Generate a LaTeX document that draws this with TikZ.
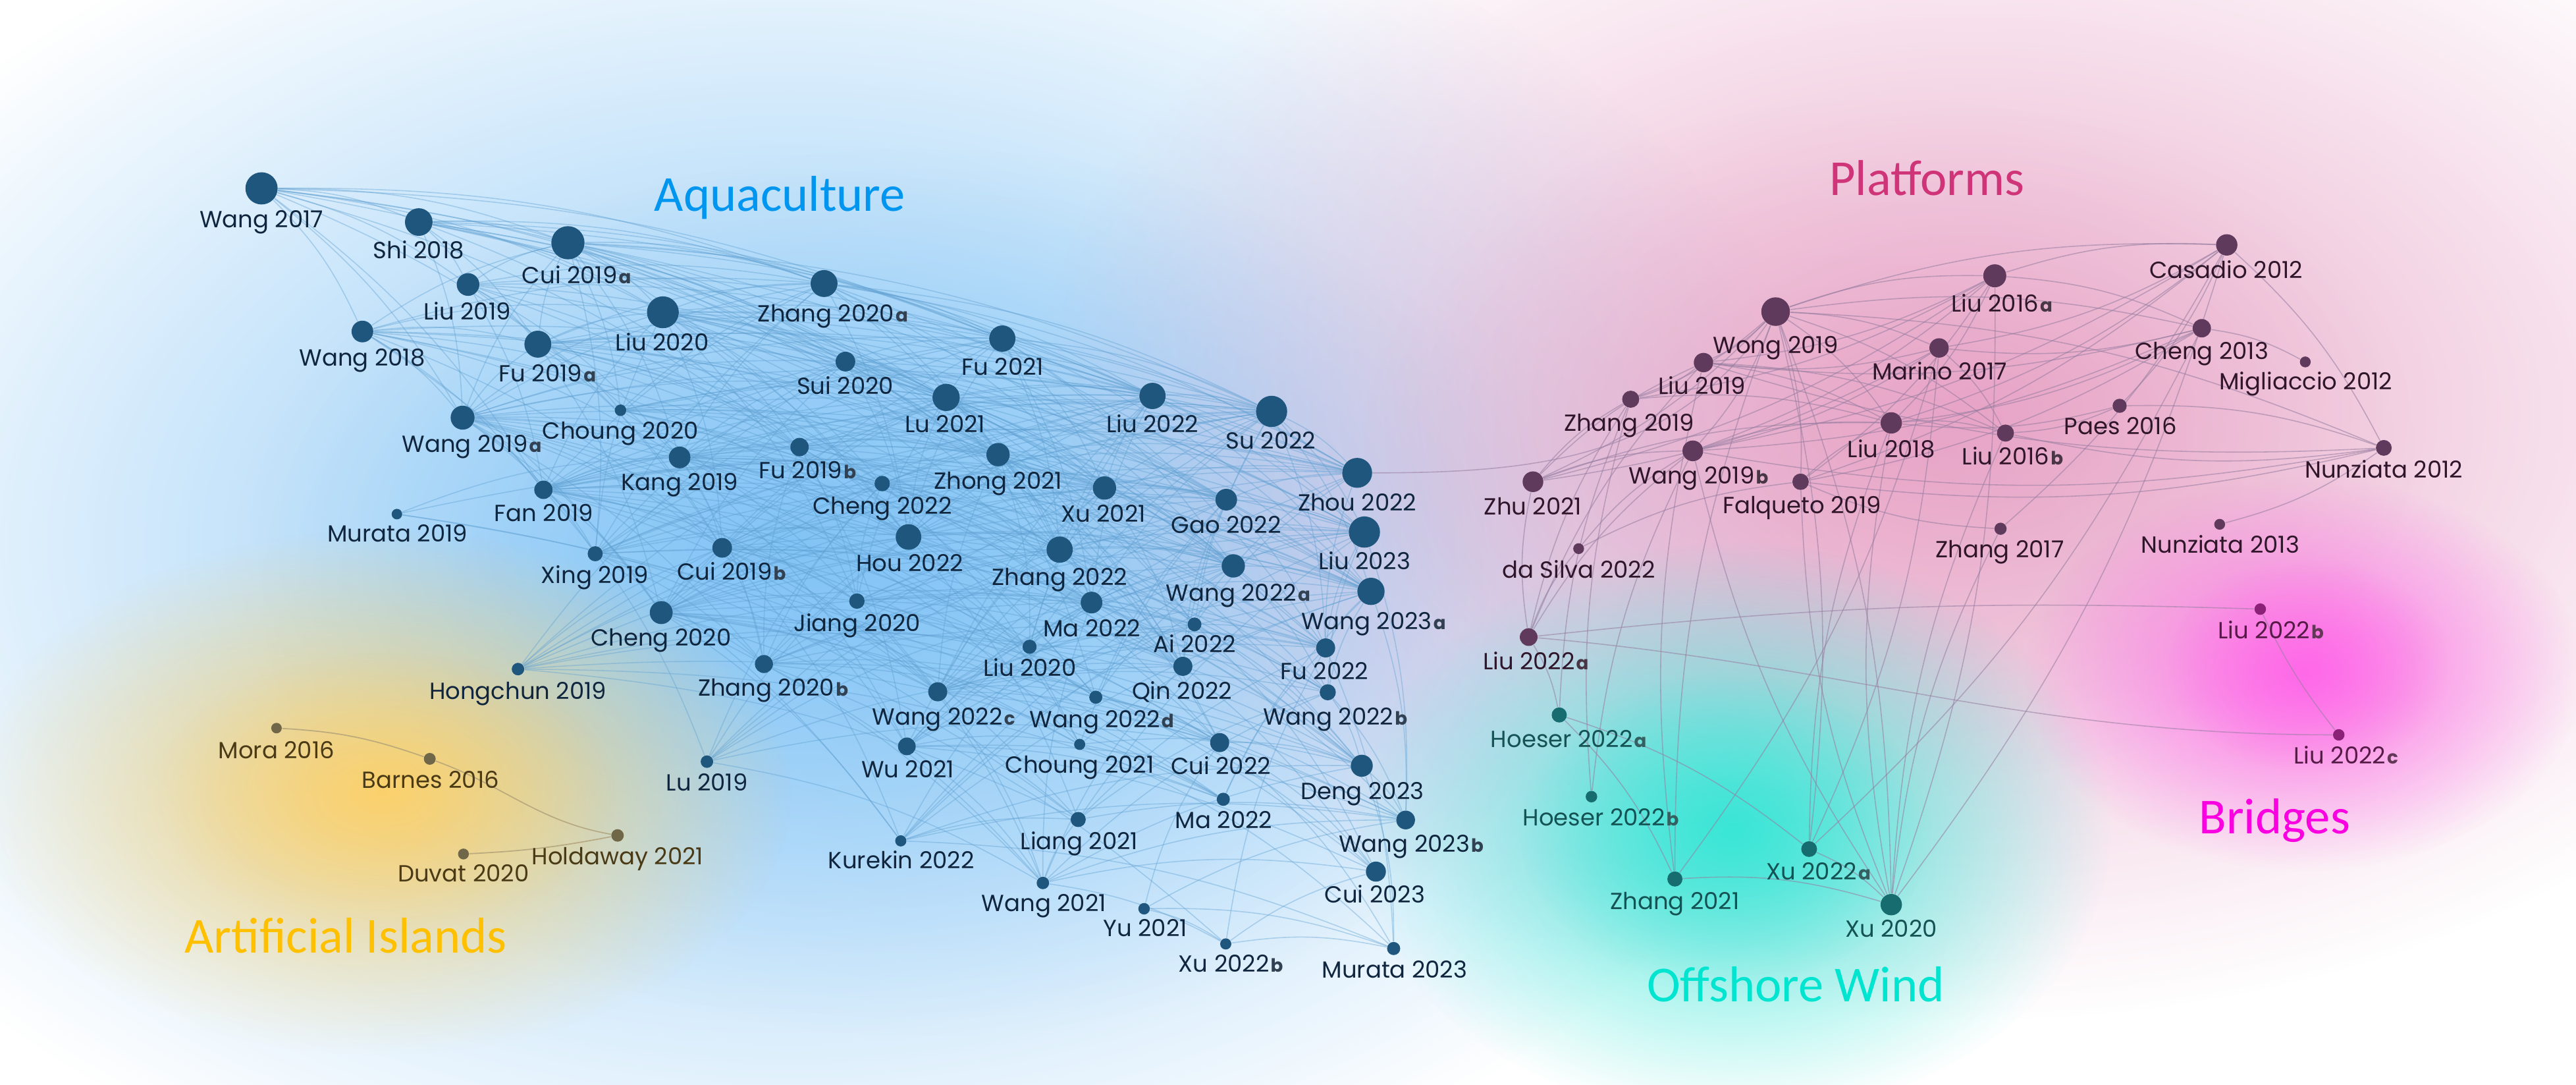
\documentclass[tikz,border=0pt]{standalone}
\usepackage{fontspec}
\setmainfont{Poppins}
\newfontfamily\titlefont{Carlito}
\usetikzlibrary{fadings}
\tikzfading[name=blobfade, inner color=transparent!0, outer color=transparent!100]
\pgfdeclarelayer{blobs}
\pgfdeclarelayer{edges}
\pgfsetlayers{blobs,edges,main}
\definecolor{aqDot}{RGB}{31,86,126}
\definecolor{aqText}{RGB}{16,38,62}
\definecolor{aqEdge}{RGB}{95,160,210}
\definecolor{plDot}{RGB}{96,58,92}
\definecolor{plText}{RGB}{48,22,42}
\definecolor{plEdge}{RGB}{150,125,160}
\definecolor{owDot}{RGB}{22,108,110}
\definecolor{owText}{RGB}{20,82,84}
\definecolor{brDot}{RGB}{140,34,120}
\definecolor{brText}{RGB}{86,26,70}
\definecolor{aiDot}{RGB}{112,102,72}
\definecolor{aiText}{RGB}{74,58,22}
\definecolor{aiEdge}{RGB}{175,160,120}
\definecolor{tAqua}{RGB}{0,150,240}
\definecolor{tPlat}{RGB}{208,52,120}
\definecolor{tIsl}{RGB}{255,192,0}
\definecolor{tWind}{RGB}{0,228,208}
\definecolor{tBridge}{RGB}{250,0,225}
\definecolor{bBlue}{RGB}{118,190,245}
\definecolor{bYel}{RGB}{255,208,100}
\definecolor{bPink}{RGB}{228,150,190}
\definecolor{bMag}{RGB}{255,100,232}
\definecolor{bCyan}{RGB}{50,230,214}
\newcommand\suf[1]{\hspace{0.06em}{\fontsize{7.9}{8}\selectfont\bfseries\color{.!70!gray}#1}}
\def\aqlist{w17/159.2/114.6/9.8, s18/254.9/135.1/8.4, c19a/345.7/147.7/10.1,
 l19/284.9/173.1/6.9, w18/220.6/201.7/6.6, l20/403.5/190.0/9.7, f19a/327.4/209.4/8.2,
 z20a/501.6/172.5/8.2, su20/514.6/220.0/6.0, f21/610.1/206.0/8.0, lu21/575.9/241.8/8.3,
 l22/701.5/240.9/8.0, su22/774.0/250.3/9.5, w19a/281.6/254.1/7.3, ch20/377.7/249.6/3.5,
 k19/413.7/278.3/6.6, f19b/486.7/272.0/5.6, zh21/607.5/276.6/7.1, c22/537.0/294.2/4.7,
 x21/672.3/296.9/7.1, g22/746.4/304.0/6.6, zo22/826.1/287.7/9.1, fa19/330.8/298.0/5.6,
 m19/241.6/312.8/3.2, x19/362.3/336.9/4.6, c19b/439.6/333.3/6.0, h22/553.0/326.7/7.8,
 z22/645.0/334.4/8.0, l23/830.5/323.7/9.5, w22a/750.7/344.3/7.1, w23a/834.5/359.8/8.3,
 cg20/402.5/372.7/7.0, j20/521.6/365.7/4.7, ma22/664.4/366.6/6.6, ai22/727.1/379.9/4.2,
 l20b/626.7/393.5/4.3, f22/806.9/394.2/5.8, hc19/315.3/407.1/3.8, z20b/465.0/404.0/5.5,
 q22/720.0/405.4/5.8, w22b/808.2/421.2/4.9, w22c/570.8/420.9/5.8, w22d/667.0/424.2/4.0,
 wu21/552.0/454.1/5.4, cu21/657.2/452.9/3.4, cu22/742.4/451.8/5.8, de23/828.9/465.9/6.7,
 ma22b/744.6/486.3/4.0, w23b/855.6/498.9/5.7, li21/656.3/498.6/4.6, ku22/548.3/511.6/3.4,
 w21/634.8/537.2/3.8, yu21/696.4/552.9/3.5, x22b/746.1/574.3/3.4, cu23/837.5/530.3/6.1,
 mu23/848.3/577.1/4.0, lu19/430.3/463.4/3.8}
\def\pllist{cas/1355.4/149.0/6.5, l16a/1214.2/167.8/7.0, wo19/1080.8/189.6/8.7,
 ch13/1340.2/199.7/5.6, ma17/1180.3/211.7/5.9, mi12/1403.2/220.2/3.3, l19p/1036.9/220.6/5.9,
 z19/992.6/242.9/5.2, pa16/1290.2/246.9/4.3, l18/1151.2/257.3/6.5, l16b/1220.7/263.5/5.2,
 w19b/1030.4/274.3/6.3, n12/1451.0/272.5/4.8, zhu21/933.1/293.1/6.3, fq19/1096.0/293.1/5.0,
 z17/1217.7/321.7/3.7, n13/1351.1/319.0/3.3, ds22/960.9/333.8/3.3, l22a/930.5/387.6/5.4}
\def\brlist{l22b/1375.8/370.6/3.5, l22c/1423.6/447.1/3.5}
\def\owlist{h22a/949.1/435.0/4.6, h22b/968.7/484.7/3.5, x22a/1101.2/516.6/4.8,
 z21/1019.5/534.8/4.6, x20/1151.2/550.4/6.5}
\def\ailist{mo16/168.3/443.0/3.2, ba16/261.6/461.7/3.6, ho21/375.9/508.3/3.8, du20/282.1/519.6/3.3}
\begin{document}
\begin{tikzpicture}[x=0.025cm,y=-0.025cm,
  dot/.style={circle,inner sep=0pt,draw=none},
  lab/.style={inner sep=0pt,text height=7.2pt,text depth=0pt,font=\fontsize{10.1}{11}\selectfont},
  ttl/.style={inner sep=0pt,text height=14pt,text depth=0pt,font=\titlefont\fontsize{21.8}{22}\selectfont},
  aqedge/.style={draw=aqEdge,line width=0.45pt,opacity=0.4},
  pledge/.style={draw=plEdge,line width=0.45pt,opacity=0.55},
  aiedge/.style={draw=aiEdge,line width=0.5pt,opacity=0.8},
  blob/.style={path fading=blobfade, fit fading=true}]
\useasboundingbox (0,0) rectangle (1568,660);
\begin{pgfonlayer}{blobs}
\fill[white] (0,0) rectangle (1568,660);
\fill[bBlue, opacity=0.85, blob] (480,330) ellipse (650 and 430);
\fill[bBlue, opacity=0.5, blob] (560,360) ellipse (400 and 270);
\fill[bPink, opacity=0.8, blob] (1200,250) ellipse (570 and 370);
\fill[bPink, opacity=0.4, blob] (1150,270) ellipse (320 and 210);
\fill[bYel, opacity=0.9, blob] (232,482) ellipse (250 and 160);
\fill[bYel, opacity=0.4, blob] (235,482) ellipse (140 and 85);
\fill[bCyan, opacity=0.9, blob] (1055,505) ellipse (230 and 175);
\fill[bCyan, opacity=0.6, blob] (1050,505) ellipse (125 and 95);
\fill[bMag, opacity=0.9, blob] (1402,410) ellipse (170 and 120);
\fill[bMag, opacity=0.6, blob] (1405,405) ellipse (85 and 65);
\end{pgfonlayer}
% nodes
\foreach \id/\x/\y/\r in \aqlist {\pgfmathsetmacro\d{2*\r*0.025}\node[dot,fill=aqDot,minimum size=\d cm] (\id) at (\x,\y) {};}
\foreach \id/\x/\y/\r in \pllist {\pgfmathsetmacro\d{2*\r*0.025}\node[dot,fill=plDot,minimum size=\d cm] (\id) at (\x,\y) {};}
\foreach \id/\x/\y/\r in \brlist {\pgfmathsetmacro\d{2*\r*0.025}\node[dot,fill=brDot,minimum size=\d cm] (\id) at (\x,\y) {};}
\foreach \id/\x/\y/\r in \owlist {\pgfmathsetmacro\d{2*\r*0.025}\node[dot,fill=owDot,minimum size=\d cm] (\id) at (\x,\y) {};}
\foreach \id/\x/\y/\r in \ailist {\pgfmathsetmacro\d{2*\r*0.025}\node[dot,fill=aiDot,minimum size=\d cm] (\id) at (\x,\y) {};}
% edges
\begin{pgfonlayer}{edges}
\foreach \a/\ax/\ay/\ar [count=\i] in \aqlist {
  \foreach \b/\bx/\by/\br [count=\j] in \aqlist {
    \pgfmathtruncatemacro\ok{(\bx-\ax>15)&&(\bx-\ax<460)&&(abs(\by-\ay)<190)&&(mod(mod(\i*31+\j*17,97)*7+mod(\i*\j,89)*3,100)<min(85,\ar*\br*1.3))}
    \ifnum\ok=1 \draw[aqedge] (\a) to[bend left=10] (\b);\fi
  }
}
\foreach \a/\b in {wo19/l16a, wo19/cas, wo19/ch13, wo19/ma17, wo19/l19p, wo19/z19, wo19/zhu21,
  wo19/w19b, wo19/l18, wo19/l16b, wo19/fq19, wo19/x20, wo19/x22a, wo19/n12,
  l16a/cas, l16a/w19b, l16a/zhu21, l16a/l18, l16a/fq19, l16a/ch13, l16a/z19, l16a/l19p, l16a/x20,
  cas/ma17, cas/l18, cas/z17, cas/n12, cas/pa16, cas/x20, cas/w19b, cas/fq19,
  ch13/ma17, ch13/l19p, ch13/mi12, ch13/l18, ch13/fq19, ch13/x22a, ch13/w19b,
  ma17/w19b, ma17/l19p, ma17/l16b, ma17/zhu21, ma17/x22a, ma17/z21,
  pa16/l16b, pa16/n12, pa16/l18, n12/n13, n12/l16b, n12/fq19, n12/w19b, n12/l19p, z17/fq19,
  zhu21/z19, zhu21/w19b, zhu21/l19p, zhu21/l18, ds22/fq19, ds22/w19b,
  l22a/zhu21, l22a/z19, l22a/l19p, l22a/w19b, l22a/ds22, l22a/h22a,
  h22a/z21, h22a/x22a, h22a/z19, h22b/z19, h22b/w19b,
  z21/x20, z21/l19p, z21/wo19, x22a/x20, x22a/l18,
  x20/l16b, x20/l18, x20/w19b, x20/fq19, x20/z17,
  l19p/z19, l19p/l18, w19b/l18, z19/l18, l18/l16b, fq19/l18, l19p/l16b}
  {\draw[pledge] (\a) to[bend left=10] (\b);}
\draw[pledge] (zo22) to[out=0,in=235] (wo19);
\draw[pledge] (l22a) to[bend left=4] (l22b);
\draw[pledge] (l22a) to[out=-5,in=180] (l22c);
\draw[pledge] (l22b) to[bend right=6] (l22c);
\draw[aiedge] (mo16) to[bend left=8] (ba16);
\draw[aiedge] (ba16) to[out=-20,in=170] (ho21);
\draw[aiedge] (ho21) to[bend left=4] (du20);
\end{pgfonlayer}
% labels
\foreach \x/\y/\t [count=\i] in {159.2/133.3/Wang 2017, 254.9/152.1/Shi 2018, 351/167.3/Cui 2019\suf{a},
 284.4/189.7/Liu 2019, 220.5/217.4/Wang 2018, 403.1/208.5/Liu 2020, 333.3/227.3/Fu 2019\suf{a},
 507/190.8/Zhang 2020\suf{a}, 514.5/235.0/Sui 2020, 610.5/223.0/Fu 2021, 575.3/258.2/Lu 2021,
 701.5/257.9/Liu 2022, 773.6/268.2/Su 2022, 287.2/270.2/Wang 2019\suf{a}, 377.7/262.2/Choung 2020,
 413.7/293.5/Kang 2019, 491.6/286.3/Fu 2019\suf{b}, 607.5/292.7/Zhong 2021, 537.0/307.6/Cheng 2022,
 671.6/312.4/Xu 2021, 746.4/319.2/Gao 2022, 826.1/305.8/Zhou 2022, 331.0/312.3/Fan 2019,
 241.9/324.8/Murata 2019, 362.0/349.8/Xing 2019, 445.2/348.0/Cui 2019\suf{b}, 553.7/342.8/Hou 2022,
 645.0/351.2/Zhang 2022, 830.5/341.6/Liu 2023, 753.7/360.7/Wang 2022\suf{a}, 836.1/378.1/Wang 2023\suf{a},
 402.3/388.1/Cheng 2020, 521.8/379.1/Jiang 2020, 664.6/382.2/Ma 2022, 727.1/392.0/Ai 2022,
 626.8/406.3/Liu 2020, 806.2/408.5/Fu 2022, 315.3/420.5/Hongchun 2019, 470.6/418.5/Zhang 2020\suf{b},
 719.5/420.3/Qin 2022, 812.7/436.0/Wang 2022\suf{b}, 574.4/436.0/Wang 2022\suf{c}, 670.7/437.5/Wang 2022\suf{d},
 552.6/468.2/Wu 2021, 657.2/465.1/Choung 2021, 743.1/465.9/Cui 2022, 829.2/481.3/Deng 2023,
 744.9/498.9/Ma 2022, 859.0/513.5/Wang 2023\suf{b}, 656.9/511.9/Liang 2021, 548.6/523.4/Kurekin 2022,
 635.4/549.5/Wang 2021, 697.1/564.8/Yu 2021, 749.2/586.3/Xu 2022\suf{b}, 836.9/544.1/Cui 2023,
 848.9/590.1/Murata 2023, 430.3/476.0/Lu 2019}
 {\node[lab,text=aqText] (aqlab\i) at (\x,\y) {\t};}
\foreach \x/\y/\t [count=\i] in {1355.0/164.2/Casadio 2012, 1218.5/184.8/Liu 2016\suf{a},
 1080.8/209.9/Wong 2019, 1340.2/213.4/Cheng 2013, 1180.7/225.9/Marino 2017, 1403.6/232.2/Migliaccio 2012,
 1036.0/234.9/Liu 2019, 991.7/257.3/Zhang 2019, 1290.7/259.1/Paes 2016, 1151.2/273.4/Liu 2018,
 1225.1/277.9/Liu 2016\suf{b}, 1033.9/289.5/Wang 2019\suf{b}, 1451.0/285.9/Nunziata 2012,
 933.1/308.3/Zhu 2021, 1096.9/307.4/Falqueto 2019, 1217.2/334.2/Zhang 2017, 1351.5/331.5/Nunziata 2013,
 960.9/346.7/da Silva 2022, 934.8/402.4/Liu 2022\suf{a}}
 {\node[lab,text=plText] (pllab\i) at (\x,\y) {\t};}
\foreach \x/\y/\t [count=\i] in {1382.3/383.6/Liu 2022\suf{b}, 1428/459.7/Liu 2022\suf{c}}
 {\node[lab,text=brText] (brlab\i) at (\x,\y) {\t};}
\foreach \x/\y/\t [count=\i] in {954.8/449.8/Hoeser 2022\suf{a}, 974.4/497.2/Hoeser 2022\suf{b},
 1106.9/530.3/Xu 2022\suf{a}, 1019.5/548.2/Zhang 2021, 1151.2/565.2/Xu 2020}
 {\node[lab,text=owText] (owlab\i) at (\x,\y) {\t};}
\foreach \x/\y/\t [count=\i] in {168.3/456.3/Mora 2016, 262.1/474.6/Barnes 2016,
 375.9/521.0/Holdaway 2021, 282.1/531.5/Duvat 2020}
 {\node[lab,text=aiText] (ailab\i) at (\x,\y) {\t};}
% titles
\node[ttl,text=tAqua] (tAq) at (474.7,118.5) {Aquaculture};
\node[ttl,text=tPlat] (tPl) at (1172.9,108.8) {Platforms};
\node[ttl,text=tIsl] (tAi) at (210.5,569.8) {Artificial Islands};
\node[ttl,text=tBridge] (tBr) at (1384.5,497.2) {Bridges};
\node[ttl,text=tWind] (tOw) at (1093,599.6) {Offshore Wind};
\end{tikzpicture}
\end{document}
